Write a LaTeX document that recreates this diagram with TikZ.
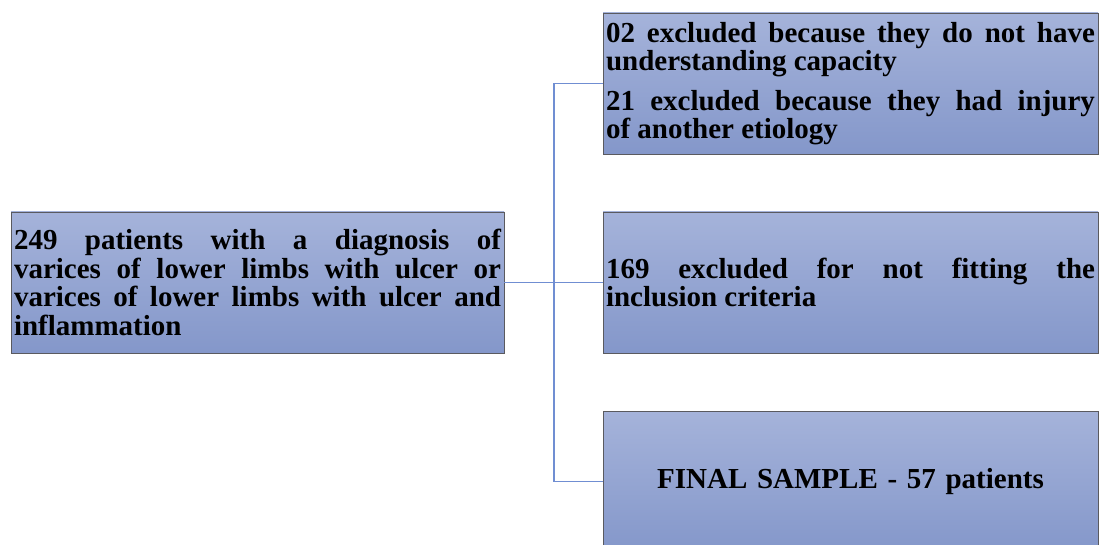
\documentclass[tikz,border=0pt]{standalone}
\usepackage{fontspec}
\setmainfont{Liberation Serif}
\definecolor{boxtop}{RGB}{165,179,218}
\definecolor{boxbot}{RGB}{132,151,202}
\definecolor{boxline}{RGB}{90,90,95}
\definecolor{linkblue}{RGB}{112,142,210}
\tolerance=9999
\hyphenpenalty=10000
\exhyphenpenalty=10000
\begin{document}
\begin{tikzpicture}[x=1pt,y=-1pt,
    flowbox/.style={draw=boxline,line width=0.8pt,top color=boxtop,bottom color=boxbot,
        minimum height=141pt,inner xsep=3pt,inner ysep=2pt,align=justify,
        font=\bfseries\fontsize{29}{28.5}\selectfont},
    link/.style={draw=linkblue,line width=1.8pt}]
        \clip (0,0) rectangle (1099,545);
        % boxes
        \node[flowbox,text width=487pt] (total) at (257.5,282.5)
            {249 patients with a diagnosis of\linebreak varices of lower limbs with ulcer or\linebreak varices of lower limbs with ulcer and\linebreak inflammation};
        \node[flowbox,text width=489pt] (excl1) at (850.5,83.5)
            {02 excluded because they do not have\linebreak understanding capacity\\[11pt]21 excluded because they had injury\linebreak of another etiology};
        \node[flowbox,text width=489pt] (excl2) at (850.5,282.5)
            {169 excluded for not fitting the\linebreak inclusion criteria};
        \node[flowbox,text width=489pt,align=center] (final) at (850.5,481.5)
            {FINAL SAMPLE - 57 patients};
        % connectors
        \coordinate (spine) at (554,282.5);
        \draw[link] (total.east) -- (spine);
        \draw[link] (excl1.west) -- (spine |- excl1.west) -- (spine |- final.west) -- (final.west);
        \draw[link] (spine) -- (excl2.west);
    \end{tikzpicture}
\end{document}
